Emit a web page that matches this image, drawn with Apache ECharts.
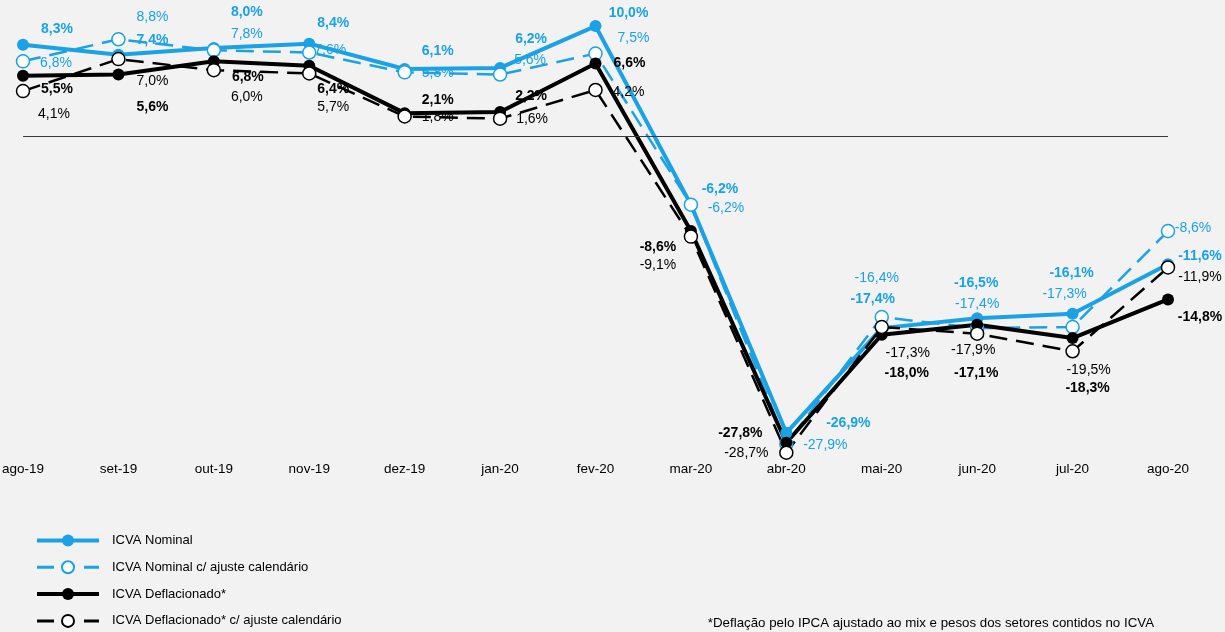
<!DOCTYPE html>
<html>
<head>
<meta charset="utf-8">
<script src="https://cdn.jsdelivr.net/npm/echarts@6/dist/echarts.min.js"></script>
<style>
html, body { margin: 0; padding: 0; background: #f2f2f2; }
#chart { width: 1225px; height: 632px; }
</style>
</head>
<body>
<div id="chart"></div>
<script>
//ICVA - variacao anual
var meses = ['ago-19', 'set-19', 'out-19', 'nov-19', 'dez-19', 'jan-20', 'fev-20', 'mar-20', 'abr-20', 'mai-20', 'jun-20', 'jul-20', 'ago-20'];
var nominal = [8.3, 7.4, 8.0, 8.4, 6.1, 6.2, 10.0, -6.2, -26.9, -17.4, -16.5, -16.1, -11.6];
var nominalAjuste = [6.8, 8.8, 7.8, 7.6, 5.8, 5.6, 7.5, -6.2, -27.9, -16.4, -17.4, -17.3, -8.6];
var deflacionado = [5.5, 5.6, 6.8, 6.4, 2.1, 2.2, 6.6, -8.6, -27.8, -18.0, -17.1, -18.3, -14.8];
var deflacionadoAjuste = [4.1, 7.0, 6.0, 5.7, 1.8, 1.6, 4.2, -9.1, -28.7, -17.3, -17.9, -19.5, -11.9];

//deslocamento dos rotulos (px)
var offNominal = [[34, -16], [34, -15], [33, -36], [24, -21], [33, -18], [31, -29], [33, -13], [29, -16], [62, -10], [-9, -29], [-1, -35], [-1, -41], [32, -8]];
var offNominalAj = [[33, 2], [34, -22], [33, -16], [21, -2], [33, 1], [30, -14], [38, -15], [35, 3], [39, 1], [-5, -39], [0, -24], [-8, -33], [25, -3]];
var offDefl = [[34, 13], [34, 33], [34, 16], [24, 23], [33, -13], [31, -16], [34, 0], [-33, 16], [-46, -10], [25, 38], [-1, 48], [15, 50], [32, 18]];
var offDeflAj = [[31, 23], [34, 22], [33, 27], [24, 34], [33, 1], [32, 0], [33, 2], [-33, 29], [-40, 0], [26, 26], [-4, 17], [16, 19], [32, 10]];

var azul = '#1aa2e4';
var preto = '#000000';
var fonte = "'Liberation Sans', Arial, sans-serif";

function pct(v) {
	return v.toFixed(1).replace('.', ',') + '%';
}

function montaDados(valores, offsets) {
	var d = [];
	for(var i = 0; i < valores.length; i++) {
		d.push({ value: valores[i], label: { offset: offsets[i] } });
	}
	return d;
}

function serie(nome, valores, offsets, cor, tracejado, negrito) {
	return {
		name: nome,
		type: 'line',
		data: montaDados(valores, offsets),
		symbol: 'circle',
		symbolSize: tracejado ? 13 : 12,
		itemStyle: {
			color: tracejado ? '#ffffff' : cor,
			borderColor: cor,
			borderWidth: tracejado ? 1.5 : 0
		},
		lineStyle: {
			color: cor,
			width: tracejado ? 2.5 : 4,
			type: tracejado ? [18, 9] : 'solid'
		},
		label: {
			show: true,
			position: 'inside',
			color: cor,
			fontFamily: fonte,
			fontSize: 14,
			fontWeight: negrito ? 'bold' : 'normal',
			formatter: function(p) {
				return pct(p.value);
			}
		},
		emphasis: { disabled: true },
		animation: false
	};
}

var series = [
	serie('ICVA Nominal', nominal, offNominal, azul, false, true),
	serie('ICVA Nominal c/ ajuste calendário', nominalAjuste, offNominalAj, azul, true, false),
	serie('ICVA Deflacionado*', deflacionado, offDefl, preto, false, true),
	serie('ICVA Deflacionado* c/ ajuste calendário', deflacionadoAjuste, offDeflAj, preto, true, false)
];
//linha do zero
series[0].markLine = {
	silent: true,
	symbol: 'none',
	label: { show: false },
	lineStyle: { color: '#3a3a3a', width: 1.2, type: 'solid' },
	data: [{ yAxis: 0 }]
};

var option = {
	backgroundColor: '#f2f2f2',
	animation: false,
	title: {
		text: '*Deflação pelo IPCA ajustado ao mix e pesos dos setores contidos no ICVA',
		right: 71,
		top: 617,
		padding: 0,
		textStyle: { fontFamily: fonte, fontSize: 13.3, fontWeight: 'normal', color: '#000' }
	},
	legend: {
		orient: 'vertical',
		left: 35,
		top: 534,
		padding: 0,
		itemWidth: 62,
		itemHeight: 15,
		itemGap: 13.3,
		textStyle: { fontFamily: fonte, fontSize: 13, color: '#000', padding: [0, 0, 0, 8] },
		data: [
			{ name: 'ICVA Nominal', lineStyle: { width: 4 } },
			{ name: 'ICVA Nominal c/ ajuste calendário', lineStyle: { type: [17, 30], width: 3 } },
			{ name: 'ICVA Deflacionado*', lineStyle: { width: 4 } },
			{ name: 'ICVA Deflacionado* c/ ajuste calendário', lineStyle: { type: [17, 30], width: 3 } }
		]
	},
	grid: { left: 23, right: 57, top: 4, height: 452, outerBoundsMode: 'none' },
	xAxis: {
		type: 'category',
		data: meses,
		boundaryGap: false,
		axisLine: { show: false },
		axisTick: { show: false },
		axisLabel: { margin: 6, color: '#000', fontFamily: fonte, fontSize: 13.5, interval: 0 }
	},
	yAxis: {
		type: 'value',
		min: -29,
		max: 12,
		show: false,
		splitLine: { show: false }
	},
	series: series
};

var myChart = echarts.init(document.getElementById('chart'));
myChart.setOption(option);
</script>
</body>
</html>
